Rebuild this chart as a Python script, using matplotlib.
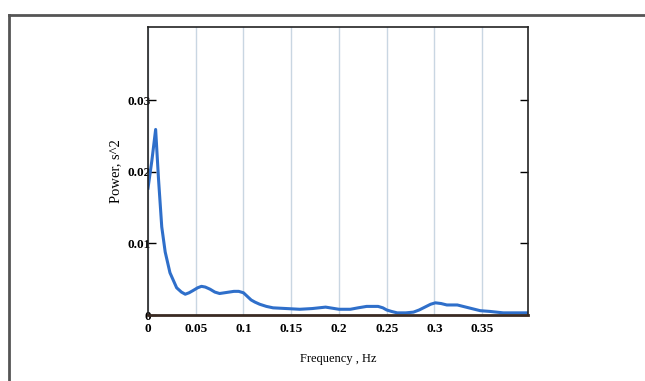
import matplotlib.pyplot as plt
from matplotlib.lines import Line2D

# spectrum
freq = [0.0, 0.004, 0.008, 0.011, 0.0144, 0.018, 0.023, 0.030, 0.035, 0.039, 0.043, 0.047,
        0.052, 0.056, 0.060, 0.065, 0.070, 0.075, 0.080, 0.085, 0.090, 0.095, 0.100, 0.104,
        0.108, 0.112, 0.117, 0.124, 0.131, 0.145, 0.159, 0.172, 0.186,
        0.200, 0.212, 0.220, 0.229, 0.241, 0.246, 0.250, 0.255, 0.261, 0.270, 0.278, 0.284,
        0.290, 0.296, 0.301, 0.307, 0.313, 0.324, 0.336, 0.348, 0.358, 0.372, 0.385, 0.398]
power = [0.0177, 0.0215, 0.0259, 0.0190, 0.0123, 0.0088, 0.0059, 0.0038, 0.0032, 0.0029, 0.0031, 0.0034,
         0.0038, 0.0040, 0.0039, 0.0036, 0.0032, 0.0030, 0.0031, 0.0032, 0.0033, 0.0033, 0.0031, 0.0026,
         0.0021, 0.0018, 0.0015, 0.0012, 0.0010, 0.0009, 0.0008, 0.0009, 0.0011,
         0.0008, 0.0008, 0.0010, 0.0012, 0.0012, 0.0010, 0.0007, 0.0005, 0.0003, 0.0003, 0.0004, 0.0007,
         0.0011, 0.0015, 0.0017, 0.0016, 0.0014, 0.0014, 0.0010, 0.0006, 0.0005, 0.0003, 0.0003, 0.0003]

xticks = [0, 0.05, 0.1, 0.15, 0.2, 0.25, 0.3, 0.35]
xticklabels = ['0', '0.05', '0.1', '0.15', '0.2', '0.25', '0.3', '0.35']
yticks = [0, 0.01, 0.02, 0.03]
yticklabels = ['0', '0.01', '0.02', '0.03']

plt.rcParams['font.family'] = ['Liberation Serif', 'DejaVu Serif']

fig = plt.figure(figsize=(6.45, 3.81), dpi=100)
ax = fig.add_axes([148/645, 1 - 315/381, 380/645, 288/381])

ax.plot(freq, power, color='#2f6fca', lw=2.2, solid_joinstyle='round')

ax.set_xlim(0, 0.398)
ax.set_ylim(0, 0.0402)
ax.set_xticks(xticks)
ax.set_xticklabels(xticklabels, fontsize=9.5, fontweight='bold')
ax.set_yticks(yticks)
ax.set_yticklabels(yticklabels, fontsize=9.5, fontweight='bold')

ax.tick_params(axis='x', length=0, pad=6)
ax.tick_params(axis='y', direction='in', length=6, width=1, pad=-2, right=True)

ax.grid(axis='x', color='#c9d6e2', lw=1)
ax.set_axisbelow(True)

for s in ['left', 'top', 'right']:
    ax.spines[s].set_color('#222222')
    ax.spines[s].set_linewidth(1.2)
ax.spines['bottom'].set_color('#3a2a22')
ax.spines['bottom'].set_linewidth(2)

ax.set_xlabel('Frequency , Hz', fontsize=9, labelpad=13)
ax.set_ylabel('Power, s^2', fontsize=10.5, labelpad=4)

# outer frame (top and left edges visible)
fig.add_artist(Line2D([9/645, 1], [1 - 15/381, 1 - 15/381], color='#555555', lw=2,
                      transform=fig.transFigure))
fig.add_artist(Line2D([9/645, 9/645], [1 - 15/381, 0], color='#555555', lw=2,
                      transform=fig.transFigure))

fig.savefig('out.png', dpi=100)
